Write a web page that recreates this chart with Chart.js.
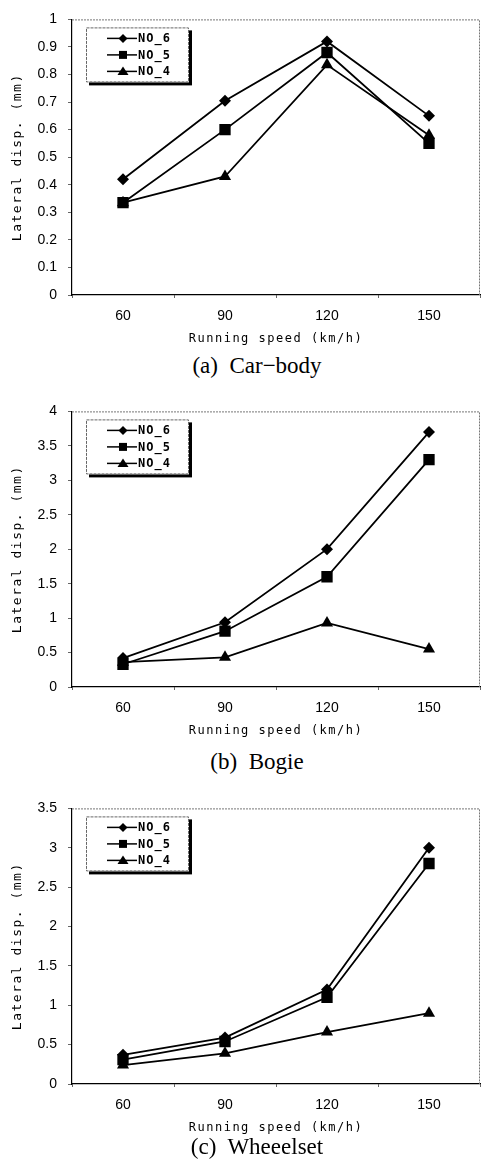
<!DOCTYPE html>
<html>
<head>
<meta charset="utf-8">
<script src="https://cdn.jsdelivr.net/npm/chart.js"></script>
<style>
body{margin:0;background:#fff;width:488px;height:1165px;position:relative;overflow:hidden}
.box{position:absolute;left:0;width:488px;height:352px}
.cap{position:absolute;left:0;width:488px;padding-left:26px;box-sizing:border-box;text-align:center;
  font:23px "Liberation Serif",serif;line-height:26px;white-space:pre;color:#000}
</style>
</head>
<body>
<div class="box" style="top:0"><canvas id="c1" width="488" height="352"></canvas></div>
<div class="cap" style="top:353px">(a)  Car−body</div>
<div class="box" style="top:392px"><canvas id="c2" width="488" height="352"></canvas></div>
<div class="cap" style="top:749px">(b)  Bogie</div>
<div class="box" style="top:789px"><canvas id="c3" width="488" height="352"></canvas></div>
<div class="cap" style="top:1134px">(c)  Wheeelset</div>
<script>
var speeds = ['60', '90', '120', '150'];
var seriesNames = ['NO_6', 'NO_5', 'NO_4'];

// (a) car-body
var carNo6 = [0.42, 0.705, 0.92, 0.65];
var carNo5 = [0.335, 0.6, 0.88, 0.55];
var carNo4 = [0.335, 0.43, 0.835, 0.58];
// (b) bogie
var bogieNo6 = [0.42, 0.94, 2.0, 3.7];
var bogieNo5 = [0.33, 0.81, 1.6, 3.3];
var bogieNo4 = [0.36, 0.43, 0.93, 0.55];
// (c) wheelset
var wheelNo6 = [0.37, 0.59, 1.2, 3.0];
var wheelNo5 = [0.31, 0.54, 1.1, 2.8];
var wheelNo4 = [0.24, 0.39, 0.66, 0.9];

var xTitle = 'Running speed (km/h)';
var yTitle = 'Lateral disp. (mm)';

var markers = [
	{style: 'rectRot', r: 6},
	{style: 'rect', r: 8},
	{style: 'triangle', r: 7}
];

function drawMarker(ctx, style, x, y, s) {
	ctx.beginPath();
	if (style == 'rectRot') {
		ctx.moveTo(x, y - s); ctx.lineTo(x + s, y); ctx.lineTo(x, y + s); ctx.lineTo(x - s, y);
	} else if (style == 'rect') {
		ctx.rect(x - s, y - s, 2 * s, 2 * s);
	} else {
		ctx.moveTo(x, y - s); ctx.lineTo(x + s * 1.1, y + s * 0.7); ctx.lineTo(x - s * 1.1, y + s * 0.7);
	}
	ctx.closePath();
	ctx.fill();
}

// frame, legend box and axis titles
var framePlugin = {
	id: 'frame',
	afterDraw: function(chart) {
		var ctx = chart.ctx;
		var ca = chart.chartArea;
		ctx.save();
		// dotted top and right border
		ctx.strokeStyle = '#777';
		ctx.lineWidth = 1;
		ctx.setLineDash([2, 1]);
		ctx.beginPath();
		ctx.moveTo(ca.left, ca.top + 0.5);
		ctx.lineTo(ca.right - 0.5, ca.top + 0.5);
		ctx.lineTo(ca.right - 0.5, ca.bottom);
		ctx.stroke();
		ctx.setLineDash([]);

		// legend
		var lx = ca.left + 14, ly = ca.top + 8, lw = 103, lh = 55;
		ctx.fillStyle = '#000';
		ctx.fillRect(lx + 3, ly + 3, lw, lh);
		ctx.fillStyle = '#fff';
		ctx.fillRect(lx, ly, lw, lh);
		ctx.strokeStyle = '#666';
		ctx.setLineDash([3, 1]);
		ctx.strokeRect(lx + 0.5, ly + 0.5, lw - 1, lh - 1);
		ctx.setLineDash([]);
		ctx.font = 'bold 12px "DejaVu Sans Mono"';
		ctx.letterSpacing = '1px';
		ctx.textBaseline = 'middle';
		ctx.textAlign = 'left';
		var sizes = [4.5, 4, 5];
		for (var i = 0; i < 3; i++) {
			var ry = ly + 11 + i * 16.5;
			ctx.strokeStyle = '#000';
			ctx.lineWidth = 1.5;
			ctx.beginPath();
			ctx.moveTo(lx + 21, ry);
			ctx.lineTo(lx + 51, ry);
			ctx.stroke();
			ctx.fillStyle = '#000';
			drawMarker(ctx, markers[i].style, lx + 37, ry, sizes[i]);
			ctx.fillText(seriesNames[i], lx + 52, ry + 0.5);
		}

		// axis titles
		ctx.letterSpacing = '1.5px';
		ctx.font = '12px "DejaVu Sans Mono"';
		ctx.textAlign = 'center';
		ctx.fillStyle = '#000';
		ctx.fillText(xTitle, (ca.left + ca.right) / 2, ca.bottom + 44);
		ctx.font = '13px "DejaVu Sans Mono"';
		ctx.translate(18, (ca.top + ca.bottom) / 2);
		ctx.rotate(-Math.PI / 2);
		ctx.fillText(yTitle, 0, 0);
		ctx.restore();
	}
};

function makeChart(id, values, yMax, yStep) {
	var datasets = [];
	for (var i = 0; i < 3; i++) {
		datasets.push({
			label: seriesNames[i],
			data: values[i],
			borderColor: '#000',
			backgroundColor: '#000',
			borderWidth: 1.8,
			pointStyle: markers[i].style,
			pointRadius: markers[i].r,
			pointBackgroundColor: '#000',
			pointBorderColor: '#000',
			pointBorderWidth: 0,
			tension: 0,
			fill: false
		});
	}
	return new Chart(document.getElementById(id), {
		type: 'line',
		data: {labels: speeds, datasets: datasets},
		plugins: [framePlugin],
		options: {
			responsive: false,
			animation: false,
			layout: {padding: {top: 13, right: 0, left: 0, bottom: 0}},
			plugins: {legend: {display: false}, tooltip: {enabled: false}},
			scales: {
				x: {
					offset: true,
					grid: {offset: true, drawOnChartArea: false, tickLength: 3, color: '#666'},
					border: {color: '#000', width: 1.2},
					ticks: {color: '#000', font: {family: 'Liberation Sans', size: 14}, padding: 10, maxRotation: 0},
					afterFit: function(s) { s.height = 57; }
				},
				y: {
					min: 0,
					max: yMax,
					grid: {drawOnChartArea: false, tickLength: 4, color: '#666'},
					border: {color: '#000', width: 1.2},
					ticks: {
						stepSize: yStep,
						color: '#000',
						font: {family: 'Liberation Sans', size: 14},
						padding: 11,
						callback: function(v) { return String(Math.round(v * 10) / 10); }
					},
					afterFit: function(s) { s.width = 72; }
				}
			}
		}
	});
}

makeChart('c1', [carNo6, carNo5, carNo4], 1, 0.1);
makeChart('c2', [bogieNo6, bogieNo5, bogieNo4], 4, 0.5);
makeChart('c3', [wheelNo6, wheelNo5, wheelNo4], 3.5, 0.5);
</script>
</body>
</html>
